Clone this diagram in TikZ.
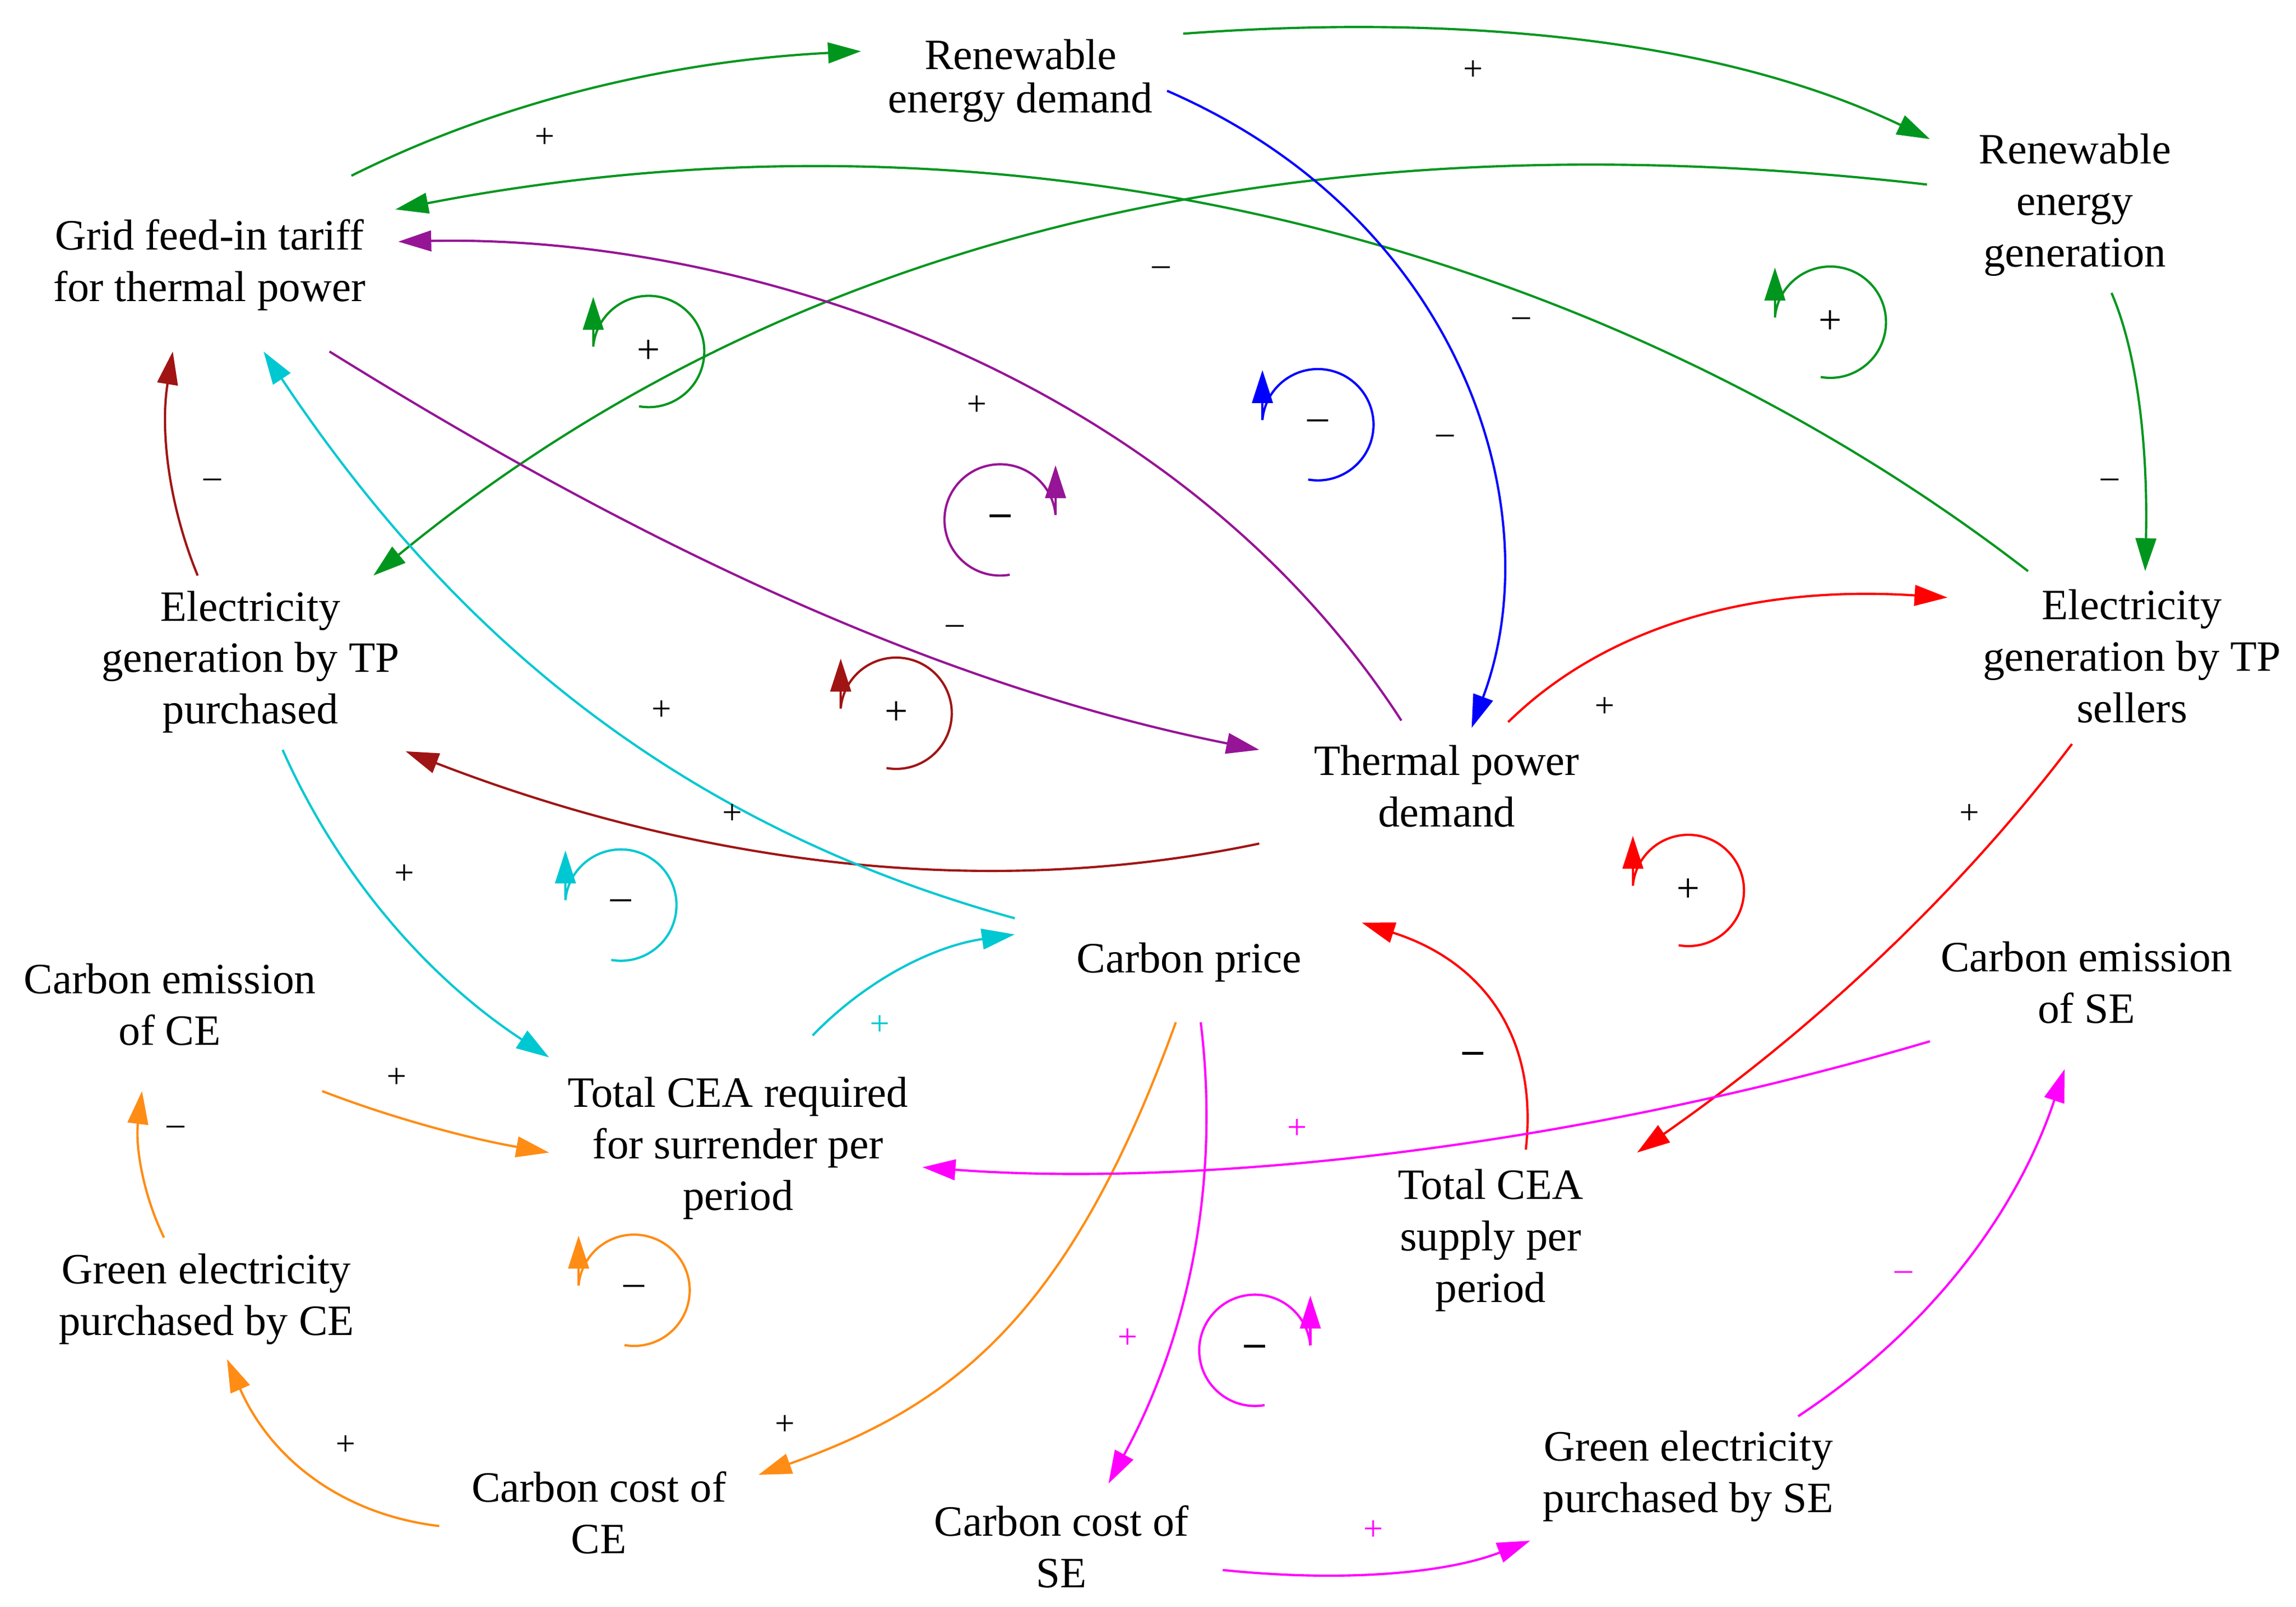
\documentclass[tikz,border=0pt]{standalone}
\usepackage{fontspec}
\setmainfont{Liberation Serif}
\usetikzlibrary{arrows.meta,calc}
\definecolor{g}{RGB}{0,150,30}
\definecolor{pu}{RGB}{150,20,150}
\definecolor{dr}{RGB}{160,20,20}
\definecolor{cy}{RGB}{0,200,210}
\definecolor{og}{RGB}{255,140,20}
\definecolor{mg}{RGB}{255,0,255}
\newcommand\qcurve[4]{\draw[e,#1] (#2) .. controls ($(#2)!0.667!(#3)$) and ($(#4)!0.667!(#3)$) .. (#4);}
\begin{document}
\begin{tikzpicture}[x=0.025cm,y=-0.025cm,
  lbl/.style={align=center,font=\fontsize{21}{25}\selectfont,inner sep=1pt},
  sg/.style={font=\fontsize{17}{20}\selectfont,inner sep=0pt},
  e/.style={line width=1.1pt,-{Triangle[length=16pt,width=10pt]}},
  lp/.style={line width=1.1pt}]
\useasboundingbox (0,0) rectangle (1568,1097);
\node[lbl] (RED) at (697,55) {Renewable\\[-4pt]energy demand};
\node[lbl] (REG) at (1417,140) {Renewable\\energy\\generation};
\node[lbl] (GFT) at (143,181) {Grid feed-in tariff\\for thermal power};
\node[lbl] (EGP) at (171,452) {Electricity\\generation by TP\\purchased};
\node[lbl] (EGS) at (1456,448) {Electricity\\generation by TP\\sellers};
\node[lbl] (TPD) at (988,537) {Thermal power\\demand};
\node[lbl] (CP) at (812,657) {Carbon price};
\node[lbl] (CEC) at (116,686) {Carbon emission\\of CE};
\node[lbl] (TCR) at (504,784) {Total CEA required\\for surrender per\\period};
\node[lbl] (CES) at (1425,671) {Carbon emission\\of SE};
\node[lbl] (TCS) at (1018,847) {Total CEA\\supply per\\period};
\node[lbl] (GEC) at (141,887) {Green electricity\\purchased by CE};
\node[lbl] (CCC) at (409,1033) {Carbon cost of\\CE};
\node[lbl] (CCS) at (725,1056) {Carbon cost of\\SE};
\node[lbl] (GES) at (1153,1008) {Green electricity\\purchased by SE};
% green
\qcurve{g}{240,120}{390,45}{588,35}
\qcurve{g}{808,23}{1120,0}{1318,95}
\draw[e,g] (1385,390) .. controls (1100,170) and (700,60) .. (270,143);
\draw[e,g] (1316,126) .. controls (1000,90) and (600,110) .. (255,393);
\qcurve{g}{1442,200}{1468,260}{1465,390}
% blue
\draw[e,blue] (797,62) .. controls (1000,150) and (1060,350) .. (1005,497);
% purple
\draw[e,pu] (957,492) .. controls (800,250) and (500,160) .. (272,165);
\draw[e,pu] (225,240) .. controls (450,380) and (650,470) .. (860,512);
% dark red
\draw[e,dr] (860,576) .. controls (650,620) and (450,580) .. (277,513);
\qcurve{dr}{135,393}{105,320}{118,240}
% cyan
\draw[e,cy] (693,627) .. controls (450,560) and (300,420) .. (180,240);
\qcurve{cy}{193,512}{250,640}{375,722}
\qcurve{cy}{555,707}{610,650}{693,638}
% red
\qcurve{red}{1030,493}{1130,395}{1330,408}
\qcurve{red}{1415,508}{1300,660}{1118,787}
\qcurve{red}{1042,785}{1055,670}{930,630}
% orange
\qcurve{og}{220,745}{290,772}{375,787}
\qcurve{og}{112,845}{90,800}{97,745}
\qcurve{og}{300,1042}{200,1030}{155,928}
\draw[e,og] (803,698) .. controls (730,900) and (650,960) .. (518,1007);
% magenta
\draw[e,mg] (1318,711) .. controls (1050,790) and (800,810) .. (630,797);
\qcurve{mg}{820,698}{840,860}{757,1013}
\qcurve{mg}{835,1072}{960,1085}{1045,1052}
\qcurve{mg}{1228,967}{1360,880}{1410,730}
% signs
\node[sg] at (372,94) {+};
\node[sg] at (1006,48) {+};
\node[sg] at (793,185) {–};
\node[sg] at (1039,220) {–};
\node[sg] at (1441,330) {–};
\node[sg] at (987,300) {–};
\node[sg] at (667,277) {+};
\node[sg] at (652,430) {–};
\node[sg] at (500,556) {+};
\node[sg] at (145,330) {–};
\node[sg] at (452,485) {+};
\node[sg] at (276,597) {+};
\node[sg,cy] at (601,700) {+};
\node[sg] at (1096,483) {+};
\node[sg] at (1345,556) {+};
\node[sg,font=\fontsize{20}{20}\selectfont\bfseries] at (1006,722) {–};
\node[sg] at (271,736) {+};
\node[sg] at (120,772) {–};
\node[sg] at (236,987) {+};
\node[sg] at (536,973) {+};
\node[sg,mg] at (886,771) {+};
\node[sg,mg] at (770,914) {+};
\node[sg,mg] at (938,1045) {+};
\node[sg,mg] at (1300,871) {–};
% loops: arrow on left
\foreach \x/\y/\c/\s in {443/240/g/+,1250/220/g/+,900/290/blue/–,612/487/dr/+,424/618/cy/–,1153/608/red/+,433/881/og/–}{
  \draw[lp,\c] (\x,\y) ++(100:38) arc (100:-175:38) coordinate (t\x);
  \draw[e,\c] (t\x) -- ++(0,-34);
  \node[sg,font=\fontsize{20}{20}\selectfont] at (\x,\y) {\s};
}
% loops: arrow on right
\foreach \x/\y/\c/\s in {683/355/pu/–,857/922/mg/–}{
  \draw[lp,\c] (\x,\y) ++(80:38) arc (80:355:38) coordinate (t\x);
  \draw[e,\c] (t\x) -- ++(0,-34);
  \node[sg,font=\fontsize{20}{20}\selectfont\bfseries] at (\x,\y) {\s};
}
\end{tikzpicture}
\end{document}
